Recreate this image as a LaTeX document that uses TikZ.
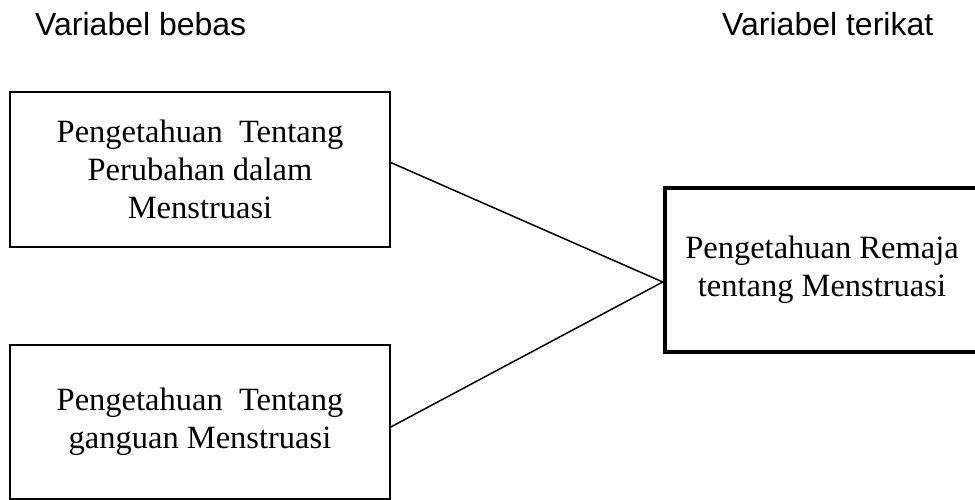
\documentclass[tikz,border=0pt]{standalone}
\usepackage{fontspec}
\setmainfont{Liberation Serif}
\newfontfamily\headfont{Liberation Sans}
\begin{document}
\begin{tikzpicture}[x=1pt,y=-1pt,
  varbox/.style={draw=black, line width=1.5pt, rectangle, align=center,
    font=\fontsize{32.5}{38}\selectfont, inner sep=0pt},
  mainbox/.style={varbox, line width=4.5pt},
  headtxt/.style={font=\headfont\fontsize{32}{36}\selectfont, anchor=base west, inner sep=0pt},
  link/.style={draw=black, line width=1.5pt}]
\useasboundingbox (0,0) rectangle (975,500);
\clip (0,0) rectangle (975,500);
\node[headtxt] (h1) at (35,36) {Variabel bebas};
\node[headtxt] (h2) at (722,36) {Variabel terikat};
\node[varbox, minimum width=380pt, minimum height=155pt] (b1) at (200,169.5)
  {Pengetahuan~ Tentang\\Perubahan dalam\\Menstruasi};
\node[varbox, minimum width=380pt, minimum height=154pt] (b2) at (200,422)
  {Pengetahuan~ Tentang\\ganguan Menstruasi};
\node[mainbox, minimum width=314pt, minimum height=164pt] (b3) at (822,270)
  {Pengetahuan Remaja\\tentang Menstruasi};
\coordinate (e1) at ([yshift=7pt]b1.east);
\coordinate (e2) at ([yshift=-5pt]b2.east);
\coordinate (e3) at ([yshift=-12pt]b3.west);
\draw[link] (e1) -- (e3);
\draw[link] (e2) -- (e3);
\end{tikzpicture}
\end{document}
